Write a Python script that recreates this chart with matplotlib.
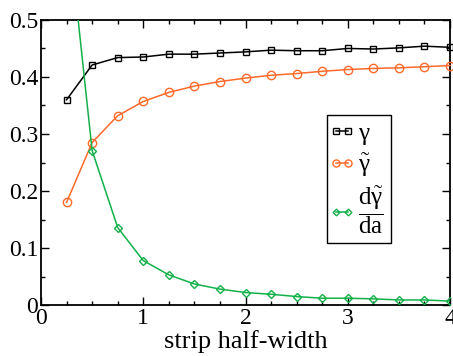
import matplotlib
matplotlib.use('Agg')
import matplotlib.pyplot as plt
from matplotlib.ticker import MultipleLocator
from matplotlib.legend_handler import HandlerLine2D

plt.rcParams['font.family'] = ['Liberation Serif', 'DejaVu Serif']
plt.rcParams['mathtext.fontset'] = 'custom'
plt.rcParams['mathtext.rm'] = 'Liberation Serif'
plt.rcParams['mathtext.it'] = 'Liberation Serif:italic'

# strip half-width
a = [0.25, 0.5, 0.75, 1.0, 1.25, 1.5, 1.75, 2.0,
     2.25, 2.5, 2.75, 3.0, 3.25, 3.5, 3.75, 4.0]
gamma = [0.360, 0.421, 0.434, 0.435, 0.440, 0.440, 0.442, 0.444,
         0.447, 0.446, 0.446, 0.450, 0.449, 0.451, 0.454, 0.452]
gamma_t = [0.180, 0.285, 0.332, 0.357, 0.373, 0.384, 0.392, 0.398,
           0.403, 0.406, 0.410, 0.413, 0.415, 0.416, 0.418, 0.420]
dgamma = [0.69, 0.271, 0.136, 0.078, 0.053, 0.037, 0.028, 0.022,
          0.019, 0.015, 0.012, 0.012, 0.011, 0.009, 0.009, 0.007]

yticks = [0, 0.1, 0.2, 0.3, 0.4, 0.5]
ylabels = ['0', '0.1', '0.2', '0.3', '0.4', '0.5']
xticks = [0, 1, 2, 3, 4]

fig = plt.figure(figsize=(4.53, 3.56), dpi=100)
ax = fig.add_axes([0.0905, 0.143, 0.903, 0.801])

l1, = ax.plot(a, gamma, color='black', lw=1.1, marker='s', ms=5, mfc='none',
              mew=1.0, clip_on=False, label=r'$\mathrm{\gamma}$', zorder=3)
l2, = ax.plot(a, gamma_t, color='#ff6a2a', lw=1.1, marker='o', ms=6, mfc='none',
              mew=1.0, clip_on=False, label=r'$\tilde{\mathrm{\gamma}}$', zorder=3)
l3, = ax.plot(a, dgamma, color='#13b04a', lw=1.1, marker='D', ms=4, mfc='none',
              mew=1.0, label=r'$\dfrac{\mathrm{d}\tilde{\mathrm{\gamma}}}{\mathrm{da}}$', zorder=3)

ax.set_xlim(0, 4)
ax.set_ylim(0, 0.5)
ax.set_xticks(xticks)
ax.set_xticklabels([str(x) for x in xticks])
ax.set_yticks(yticks)
ax.set_yticklabels(ylabels)
ax.xaxis.set_minor_locator(MultipleLocator(0.25))
ax.yaxis.set_minor_locator(MultipleLocator(0.05))
ax.tick_params(which='both', direction='in', top=True, right=True, labelsize=17, width=1.0)
ax.tick_params(which='major', length=6, pad=2)
ax.tick_params(which='minor', length=3)
for s in ax.spines.values():
    s.set_linewidth(1.3)

ax.set_xlabel('strip half-width', fontsize=19, labelpad=1)

hm = {l: HandlerLine2D(marker_pad=0.05) for l in (l1, l2, l3)}
leg = ax.legend(loc='upper left', bbox_to_anchor=(0.699, 0.668), fontsize=18,
                numpoints=2, handlelength=0.6, handletextpad=0.35, borderpad=0.3,
                labelspacing=0.2, borderaxespad=0, fancybox=False,
                edgecolor='black', framealpha=1, handler_map=hm, markerscale=0.85)
leg.get_frame().set_linewidth(1.0)

fig.savefig('out.png', dpi=100)
